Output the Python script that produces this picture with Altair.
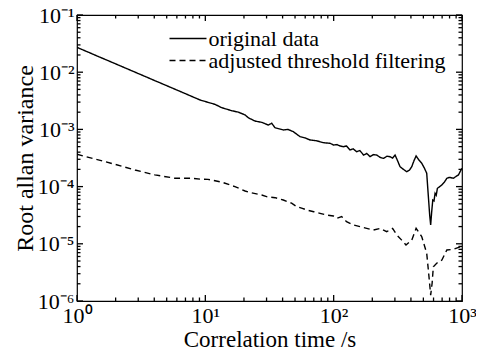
import altair as alt
import pandas as pd

# ---- data ----
solid_x = [1.0, 1.5, 2.0, 3.0, 4.0, 5.0, 6.5, 8.0, 9.1, 10.5, 11.9, 13.4, 16.1, 18.1, 20.4, 21.6,
           24.4, 27.5, 31, 32.9, 34.9, 40.5, 44, 48.5, 54.7, 60, 65.5, 74, 83, 94, 99.5, 106,
           112, 119, 126, 134, 142, 151, 160, 171, 181, 192, 204, 217, 230, 244, 260, 275, 288,
           301, 315, 329, 350, 371, 390, 406, 422, 439, 460, 486, 510, 531, 547, 560, 570, 580,
           592, 605, 617, 630, 643, 670, 697, 730, 762, 800, 858, 900, 938, 977, 1000]
solid_y = [2.72e-2, 1.84e-2, 1.40e-2, 9.48e-3, 7.19e-3, 5.81e-3, 4.52e-3, 3.70e-3, 3.27e-3,
           2.97e-3, 2.74e-3, 2.40e-3, 2.12e-3, 2.00e-3, 1.79e-3, 1.60e-3, 1.40e-3, 1.33e-3,
           1.19e-3, 1.28e-3, 1.07e-3, 9.77e-4, 1.0e-3, 9.12e-4, 7.46e-4, 7.08e-4, 6.53e-4,
           6.31e-4, 5.86e-4, 5.71e-4, 5.33e-4, 5.43e-4, 5.13e-4, 4.99e-4, 5.13e-4, 4.37e-4,
           4.57e-4, 4.07e-4, 4.27e-4, 3.56e-4, 3.80e-4, 3.33e-4, 3.63e-4, 3.56e-4, 3.24e-4,
           3.12e-4, 3.39e-4, 3.33e-4, 3.16e-4, 3.56e-4, 2.82e-4, 2.23e-4, 2.00e-4, 1.82e-4,
           1.95e-4, 2.23e-4, 2.82e-4, 3.43e-4, 2.95e-4, 2.55e-4, 2.09e-4, 1.71e-4, 6.67e-5,
           3.16e-5, 2.13e-5, 3.55e-5, 5.83e-5, 5.62e-5, 7.64e-5, 7.08e-5, 9.33e-5, 1.0e-4,
           1.07e-4, 1.20e-4, 1.40e-4, 1.45e-4, 1.40e-4, 1.51e-4, 1.60e-4, 1.91e-4, 2.09e-4]

dash_x = [1.0, 1.38, 1.98, 2.83, 4.05, 5.8, 7.8, 9.1, 10.5, 13.4, 17, 20.4, 23, 27.5, 30, 35,
          40.5, 47, 51.5, 57, 61.7, 70, 78.3, 90, 99.5, 106, 115.6, 126, 142.6, 160.7, 181, 204,
          230, 259, 288, 310, 339, 366, 406, 439, 486, 531, 553, 570, 585, 598, 635, 697, 762,
          858, 977, 1000]
dash_y = [3.67e-4, 3.04e-4, 2.45e-4, 1.95e-4, 1.60e-4, 1.40e-4, 1.40e-4, 1.35e-4, 1.34e-4,
          1.20e-4, 1.00e-4, 8.38e-5, 7.76e-5, 7.13e-5, 6.67e-5, 6.40e-5, 5.83e-5, 5.13e-5,
          4.47e-5, 4.17e-5, 3.90e-5, 3.63e-5, 3.41e-5, 3.16e-5, 3.06e-5, 2.79e-5, 2.98e-5,
          2.44e-5, 2.13e-5, 2.00e-5, 1.86e-5, 1.74e-5, 1.86e-5, 1.63e-5, 1.86e-5, 1.43e-5,
          1.16e-5, 9.55e-6, 1.16e-5, 1.86e-5, 1.33e-5, 6.82e-6, 2.66e-6, 1.27e-6, 2.04e-6,
          3.98e-6, 4.57e-6, 5.21e-6, 7.80e-6, 8.00e-6, 8.91e-6, 9.12e-6]

series_names = ["original data", "adjusted threshold filtering"]

x_major = [1, 10, 100, 1000]
x_minor = [2, 3, 4, 5, 6, 7, 8, 9, 20, 30, 40, 50, 60, 70, 80, 90,
           200, 300, 400, 500, 600, 700, 800, 900]
y_major = [1e-6, 1e-5, 1e-4, 1e-3, 1e-2, 1e-1]
y_minor = [m * d for d in [1e-6, 1e-5, 1e-4, 1e-3, 1e-2] for m in range(2, 10)]

x_labels = ["10⁰", "10¹", "10²", "10³"]
y_labels = ["10⁻⁶", "10⁻⁵", "10⁻⁴", "10⁻³", "10⁻²", "10⁻¹"]

# ---- build tables ----
rows = []
for i, (x, y) in enumerate(zip(solid_x, solid_y)):
    rows.append({"x": x, "y": y, "series": series_names[0], "idx": i})
for i, (x, y) in enumerate(zip(dash_x, dash_y)):
    rows.append({"x": x, "y": y, "series": series_names[1], "idx": i})
df = pd.DataFrame(rows)

W, H = 385, 286
FONT = "Liberation Serif"

xscale = alt.Scale(type="log", domain=[1, 1000], nice=False)
yscale = alt.Scale(type="log", domain=[1e-6, 1e-1], nice=False)

xlab_expr = "[" + ",".join("'%s'" % s for s in x_labels) + "][round(log(datum.value)/LN10)]"
ylab_expr = "[" + ",".join("'%s'" % s for s in y_labels) + "][round(log(datum.value)/LN10)+6]"

xaxis = alt.Axis(values=x_major, labelExpr=xlab_expr, title="Correlation time /s",
                 labelFont=FONT, labelFontSize=22, labelColor="black",
                 labelPadding=4, labelFlush=False, labelOverlap=False,
                 titleFont=FONT, titleFontSize=23, titleFontWeight="normal",
                 titleColor="black", titleBaseline="alphabetic", titleY=45)
yaxis = alt.Axis(values=y_major, labelExpr=ylab_expr, title="Root allan variance",
                 labelFont=FONT, labelFontSize=22, labelColor="black",
                 labelPadding=3, labelFlush=False, labelOverlap=False,
                 titleFont=FONT, titleFontSize=24, titleFontWeight="normal",
                 titleColor="black", titleBaseline="alphabetic", titleX=-45)

lines = alt.Chart(df).mark_line(color="black", strokeWidth=1.4, clip=True).encode(
    x=alt.X("x:Q", scale=xscale, axis=xaxis),
    y=alt.Y("y:Q", scale=yscale, axis=yaxis),
    strokeDash=alt.StrokeDash(
        "series:N",
        scale=alt.Scale(domain=series_names, range=[[1, 0], [6, 4]]),
        legend=alt.Legend(orient="none", legendX=100, legendY=12.5, title=None,
                          symbolType="M-2,0H2", symbolSize=342,
                          symbolStrokeColor="black", symbolFillColor="transparent",
                          symbolStrokeWidth=1.3, labelFont=FONT, labelFontSize=22,
                          labelColor="black", labelOffset=9.5, rowPadding=-3, padding=0,
                          labelLimit=400)),
    order="idx:Q",
)

TICK = "black"
layers = [lines]
for vals, ln in [(x_major, 6), (x_minor, 3.5)]:
    tdf = pd.DataFrame({"x": vals})
    layers.append(alt.Chart(tdf).mark_rule(color=TICK, strokeWidth=1.3).encode(
        x=alt.X("x:Q", scale=xscale), y=alt.value(H), y2=alt.value(H - ln)))
    layers.append(alt.Chart(tdf).mark_rule(color=TICK, strokeWidth=1.3).encode(
        x=alt.X("x:Q", scale=xscale), y=alt.value(0), y2=alt.value(ln)))
for vals, ln in [(y_major, 6), (y_minor, 3.5)]:
    tdf = pd.DataFrame({"y": vals})
    layers.append(alt.Chart(tdf).mark_rule(color=TICK, strokeWidth=1.3).encode(
        y=alt.Y("y:Q", scale=yscale), x=alt.value(0), x2=alt.value(ln)))
    layers.append(alt.Chart(tdf).mark_rule(color=TICK, strokeWidth=1.3).encode(
        y=alt.Y("y:Q", scale=yscale), x=alt.value(W), x2=alt.value(W - ln)))

chart = alt.layer(*layers).properties(
    width=W, height=H,
    autosize=alt.AutoSizeParams(type="none"),
    padding={"left": 69, "top": 7, "right": 14, "bottom": 49},
    background="white",
).configure_view(stroke="black", strokeWidth=1.2).configure_axis(
    domain=False, ticks=False, grid=False)

chart.save("out.html", embed_options={"renderer": "svg", "actions": False})
